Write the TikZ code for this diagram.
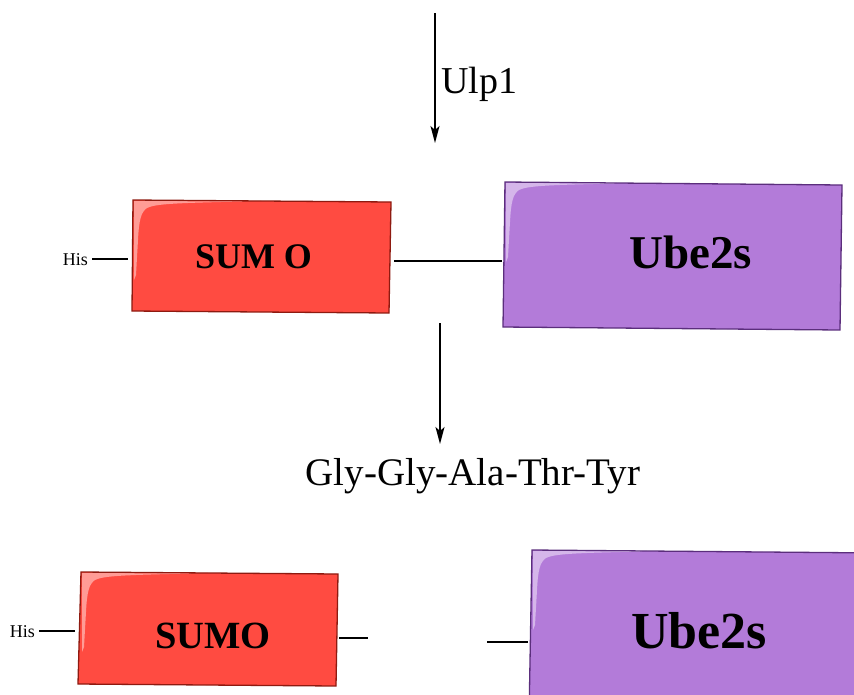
\documentclass[tikz,border=0pt]{standalone}
\usepackage{fontspec}
\setmainfont{Liberation Serif}
\usetikzlibrary{arrows.meta}
\definecolor{sumofill}{HTML}{FF4B41}
\definecolor{sumoline}{HTML}{8E1A10}
\definecolor{ubefill}{HTML}{B37BD9}
\definecolor{ubeline}{HTML}{5B2E7C}
\tikzset{
  lbl/.style={inner sep=0pt, anchor=base},
  sumobox/.style={fill=sumofill, draw=sumoline, line width=1.3pt, line join=miter},
  ubebox/.style={fill=ubefill, draw=ubeline, line width=1.3pt, line join=miter},
  gloss/.style={fill=white, fill opacity=0.45, draw=none},
  conn/.style={line width=1.5pt},
  arr/.style={line width=1.5pt, -{Stealth[length=17pt,width=9pt,inset=4pt]}}
}
% highlight at the top-left corner of a box whose top-left corner is #1
\newcommand{\glossmark}[1]{%
  \fill[gloss, shift={#1}] (1,1) -- (110,1.5)
    .. controls (40,3) and (22,4) .. (14,8)
    .. controls (8,12) and (6,20) .. (5,40)
    -- (3,75) -- (1,80) -- cycle;}
\begin{document}
\begin{tikzpicture}[x=1pt,y=-1pt]
\useasboundingbox (0,0) rectangle (854,694);
% boxes
\draw[sumobox] (133,200) -- (391,202) -- (389,313) -- (132,311) -- cycle;
\glossmark{(133,200)}
\draw[ubebox] (505,182) -- (842,185) -- (840,330) -- (503,327) -- cycle;
\glossmark{(505,182)}
\draw[sumobox] (81,572) -- (338,574) -- (336,686) -- (78,684) -- cycle;
\glossmark{(81,572)}
\draw[ubebox] (532,550) -- (880,553) -- (878,720) -- (529,718) -- cycle;
\glossmark{(532,550)}
% texts
\node[lbl, font=\fontsize{38}{44}\selectfont] (ulp) at (479,93) {Ulp1};
\node[lbl, font=\fontsize{39}{46}\selectfont] (gly) at (473,485) {Gly-Gly-Ala-Thr-Tyr};
\node[lbl, font=\fontsize{36}{42}\selectfont\bfseries] (sumoA) at (253.5,268) {SUM O};
\node[lbl, font=\fontsize{47}{54}\selectfont\bfseries] (ubeA) at (690.5,268) {Ube2s};
\node[lbl, font=\fontsize{38.5}{45}\selectfont\bfseries] (sumoB) at (213,648) {SUMO};
\node[lbl, font=\fontsize{52}{60}\selectfont\bfseries] (ubeB) at (699,648) {Ube2s};
\node[lbl, font=\fontsize{18}{21}\selectfont] (hisA) at (75.5,265) {His};
\node[lbl, font=\fontsize{18}{21}\selectfont] (hisB) at (22.5,637) {His};
% connector ends
\coordinate (a0) at (435,13);
\coordinate (a1) at (435,143);
\coordinate (b0) at (440,323);
\coordinate (b1) at (440,444);
\coordinate (h1a) at (92,259);
\coordinate (h1b) at (128,259);
\coordinate (m1a) at (394,261);
\coordinate (m1b) at (502,261);
\coordinate (h2a) at (39,631);
\coordinate (h2b) at (75,631);
\coordinate (s2a) at (339,638);
\coordinate (s2b) at (368,638);
\coordinate (u2a) at (487,642);
\coordinate (u2b) at (528,642);
% connectors
\draw[arr] (a0) -- (a1);
\draw[arr] (b0) -- (b1);
\draw[conn] (h1a) -- (h1b);
\draw[conn] (m1a) -- (m1b);
\draw[conn] (h2a) -- (h2b);
\draw[conn] (s2a) -- (s2b);
\draw[conn] (u2a) -- (u2b);
\end{tikzpicture}
\end{document}
